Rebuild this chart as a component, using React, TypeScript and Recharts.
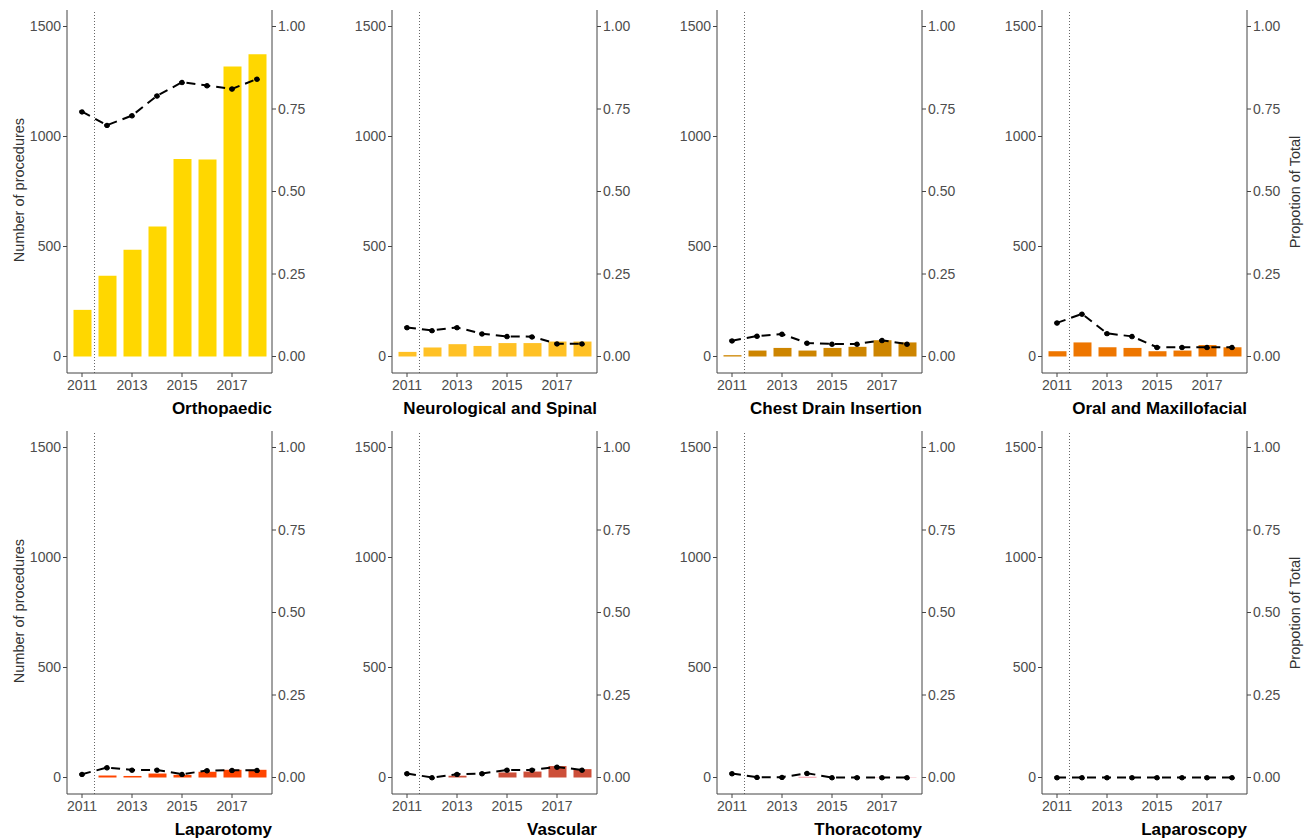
import { ComposedChart, Bar, Line, XAxis, YAxis, ReferenceLine } from 'recharts'

const years = [2011, 2012, 2013, 2014, 2015, 2016, 2017, 2018]

const orthoCounts = [212, 367, 485, 591, 898, 895, 1318, 1374]
const orthoProp = [0.742, 0.701, 0.73, 0.79, 0.831, 0.821, 0.811, 0.841]
const neuroCounts = [21, 41, 56, 48, 61, 61, 68, 68]
const neuroProp = [0.088, 0.079, 0.088, 0.069, 0.061, 0.06, 0.039, 0.039]
const chestCounts = [6, 27, 39, 27, 39, 44, 74, 64]
const chestProp = [0.048, 0.062, 0.068, 0.041, 0.038, 0.038, 0.049, 0.038]
const oralCounts = [24, 64, 42, 39, 24, 27, 52, 42]
const oralProp = [0.102, 0.129, 0.07, 0.061, 0.028, 0.028, 0.028, 0.028]
const laparotomyCounts = [0, 9, 7, 18, 12, 26, 35, 35]
const laparotomyProp = [0.01, 0.03, 0.023, 0.023, 0.01, 0.021, 0.022, 0.022]
const vascularCounts = [0, 0, 8, 0, 23, 27, 52, 38]
const vascularProp = [0.012, 0, 0.01, 0.012, 0.023, 0.023, 0.032, 0.023]
const thoracotomyCounts = [0, 0, 0, 3, 0, 0, 1, 1]
const thoracotomyProp = [0.012, 0.001, 0.001, 0.013, 0, 0, 0, 0]
const laparoscopyCounts = [0, 0, 0, 0, 0, 0, 0, 0]
const laparoscopyProp = [0, 0, 0, 0, 0, 0, 0, 0]

const countTicks = [0, 500, 1000, 1500]
const propTicks = [0, 0.25, 0.5, 0.75, 1]
const yearTicks = [2011, 2013, 2015, 2017]

const panels = [
  { name: 'Orthopaedic', color: '#FFD700', counts: orthoCounts, prop: orthoProp },
  { name: 'Neurological and Spinal', color: '#FFC125', counts: neuroCounts, prop: neuroProp },
  { name: 'Chest Drain Insertion', color: '#CD8500', counts: chestCounts, prop: chestProp },
  { name: 'Oral and Maxillofacial', color: '#EE7600', counts: oralCounts, prop: oralProp },
  { name: 'Laparotomy', color: '#FF4500', counts: laparotomyCounts, prop: laparotomyProp },
  { name: 'Vascular', color: '#CD4F39', counts: vascularCounts, prop: vascularProp },
  { name: 'Thoracotomy', color: '#EE6A80', counts: thoracotomyCounts, prop: thoracotomyProp },
  { name: 'Laparoscopy', color: '#CD3278', counts: laparoscopyCounts, prop: laparoscopyProp },
]

const axisColor = '#444'
const tickStyle = { fill: '#4d4d4d', fontSize: 14 }
const font = '"Liberation Sans", Arial, sans-serif'

function Panel({ name, color, counts, prop, left, top }: any) {
  const data = years.map((year, i) => ({ year, count: counts[i], prop: prop[i] }))
  return (
    <div style={{ position: 'absolute', left, top, width: 315, height: 425 }}>
      <ComposedChart width={315} height={403} data={data} margin={{ top: 10, right: 0, bottom: 0, left: 0 }}>
        <XAxis
          dataKey="year"
          type="number"
          domain={[2010.4, 2018.6]}
          ticks={yearTicks}
          allowDataOverflow
          height={30}
          tick={tickStyle}
          tickSize={4}
          tickMargin={3}
          stroke={axisColor}
        />
        <YAxis
          yAxisId="left"
          domain={[-75, 1575]}
          ticks={countTicks}
          allowDataOverflow
          width={60}
          tick={tickStyle}
          tickSize={4}
          tickMargin={2}
          stroke={axisColor}
        />
        <YAxis
          yAxisId="right"
          orientation="right"
          domain={[-0.05, 1.05]}
          ticks={propTicks}
          allowDataOverflow
          width={50}
          tick={tickStyle}
          tickSize={4}
          tickMargin={2}
          tickFormatter={(v: number) => v.toFixed(2)}
          stroke={axisColor}
        />
        <Bar yAxisId="left" dataKey="count" fill={color} barSize={18} isAnimationActive={false} />
        <ReferenceLine yAxisId="left" x={2011.5} stroke="#666" strokeDasharray="1 2" />
        <Line
          yAxisId="right"
          dataKey="prop"
          type="linear"
          stroke="#000"
          strokeWidth={2}
          strokeDasharray="9 6"
          dot={{ r: 2.5, fill: '#000', stroke: '#000', strokeWidth: 1 }}
          isAnimationActive={false}
        />
      </ComposedChart>
      <div
        style={{
          position: 'absolute',
          right: 50,
          top: 399,
          fontSize: 17,
          fontWeight: 'bold',
          color: '#000',
          whiteSpace: 'nowrap',
        }}
      >
        {name}
      </div>
    </div>
  )
}

export default function App() {
  return (
    <div style={{ position: 'absolute', left: 0, top: 0, width: 1315, height: 839, background: '#fff', fontFamily: font }}>
      {panels.map((p, i) => (
        <Panel key={p.name} {...p} left={7 + (i % 4) * 325} top={Math.floor(i / 4) * 421} />
      ))}
      {[191, 612].map((y) => (
        <div
          key={'l' + y}
          style={{
            position: 'absolute',
            left: 19 - 100,
            top: y - 9,
            width: 200,
            textAlign: 'center',
            fontSize: 14.5,
            color: '#333',
            transform: 'rotate(-90deg)',
          }}
        >
          Number of procedures
        </div>
      ))}
      {[193, 614].map((y) => (
        <div
          key={'r' + y}
          style={{
            position: 'absolute',
            left: 1295 - 100,
            top: y - 9,
            width: 200,
            textAlign: 'center',
            fontSize: 14.5,
            color: '#333',
            transform: 'rotate(-90deg)',
          }}
        >
          Propotion of Total
        </div>
      ))}
    </div>
  )
}
